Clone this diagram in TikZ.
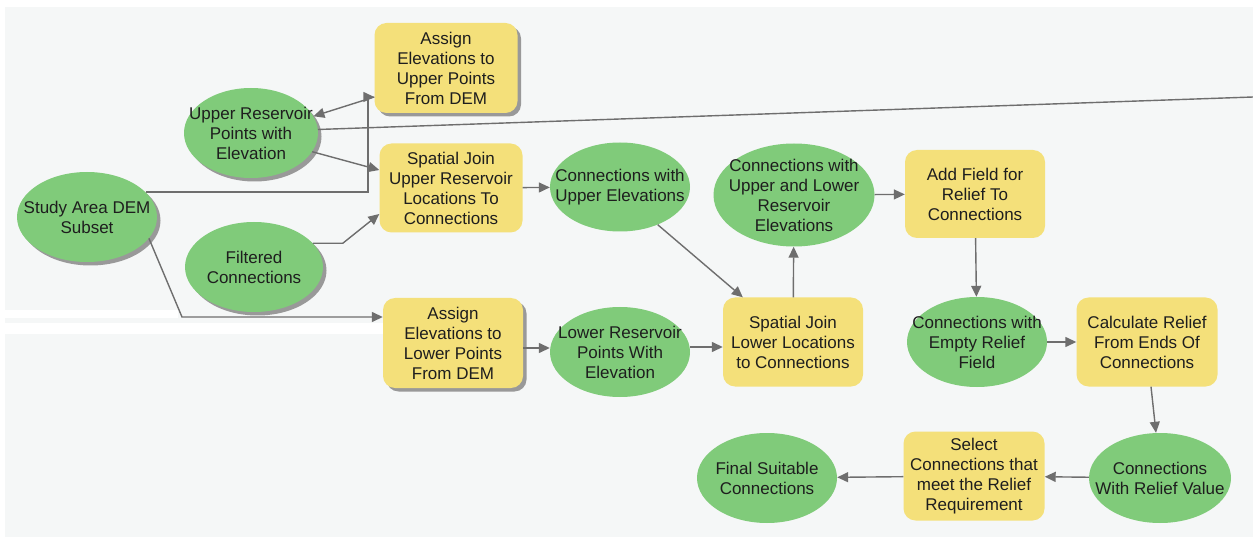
\documentclass[tikz,border=0pt]{standalone}
\usepackage{fontspec}
\setmainfont{Liberation Sans}
\usepackage{xcolor}
\usetikzlibrary{shapes.geometric,arrows.meta,shadows,calc,positioning}
\definecolor{dsgreen}{HTML}{80CB7A}
\definecolor{tlyellow}{HTML}{F4E07A}
\definecolor{linegray}{HTML}{6E6E6E}
\definecolor{bggray}{HTML}{F5F7F7}
\definecolor{txtcol}{HTML}{1E1E1E}

\begin{document}
\begin{tikzpicture}
[x=1pt,y=-1pt,
every node/.style={font=\fontsize{17}{20}\selectfont,text=txtcol,align=center,inner sep=0pt},
data/.style={ellipse,fill=dsgreen,minimum width=140pt,minimum height=90pt},
tool/.style={rectangle,rounded corners=12pt,fill=tlyellow,minimum width=141pt,minimum height=89pt},
shade/.style={drop shadow={shadow xshift=3.5pt,shadow yshift=-3.5pt,fill=black!40,opacity=1}},
flow/.style={-{Triangle[length=11pt,width=10pt]},draw=linegray,line width=1.4pt},
plain/.style={draw=linegray,line width=1.4pt}]
\useasboundingbox (0,0) rectangle (1253,537);
\fill[white] (0,0) rectangle (1253,537);
\fill[bggray] (5,7) rectangle (1253,537);
\fill[white] (5,310) rectangle (178,318);
\fill[white] (5,323) rectangle (384,334);

% inputs and first tools
\node[data,shade,label={center:Study Area DEM\\Subset}] (dem) at (87,217) {};
\node[data,shade,minimum width=134pt,label={center:Upper Reservoir\\Points with\\Elevation}] (upres) at (251,133) {};
\node[data,shade,minimum width=138pt,label={center:Filtered\\Connections}] (filt) at (254,267) {};
\node[tool,shade,minimum width=143pt,minimum height=90pt] (assignup) at (446,68) {Assign\\Elevations to\\Upper Points\\From DEM};
\node[tool,minimum width=143pt] (sjup) at (451,188) {Spatial Join\\Upper Reservoir\\Locations To\\Connections};
\node[tool,shade,minimum width=140pt,minimum height=90pt] (assignlow) at (453,343) {Assign\\Elevations to\\Lower Points\\From DEM};

% middle
\node[data,minimum height=89pt,label={center:Connections with\\Upper Elevations}] (upelev) at (620,187) {};
\node[data,label={center:Lower Reservoir\\Points With\\Elevation}] (lowres) at (620,352) {};
\node[tool,minimum width=140pt] (sjlow) at (793,342) {Spatial Join\\Lower Locations\\to Connections};
\node[data,minimum width=161pt,minimum height=103pt,label={center:Connections with\\Upper and Lower\\Reservoir\\Elevations}] (uplow) at (794,195) {};
\node[tool,minimum width=140pt,minimum height=88pt] (addf) at (975,194) {Add Field for\\Relief To\\Connections};

% relief
\node[data,label={center:Connections with\\Empty Relief\\Field}] (empty) at (977,342) {};
\node[tool] (calc) at (1147,342) {Calculate Relief\\From Ends Of\\Connections};
\node[data,minimum width=142pt,label={center:Connections\\With Relief Value}] (relval) at (1160,478) {};
\node[tool] (select) at (974,476) {Select\\Connections that\\meet the Relief\\Requirement};
\node[data,label={center:Final Suitable\\Connections}] (final) at (767,478) {};

\coordinate (jn) at (368,97);
\coordinate (bend) at (182,317);
\coordinate (rightend) at (1253,97);

\draw[flow] (dem.23) -| (jn) -- (assignup.west |- jn);
\draw[flow] (assignup.west |- jn) -- (upres.15);
\draw[plain] (upres.3) -- (rightend);
\draw[flow] (upres.-17) -- ([yshift=18pt]sjup.west);
\draw[flow] (filt.22) -- ++(30,0) -- ([yshift=-26pt]sjup.west);
\draw[flow] (dem.-19) -- (bend) -- (assignlow.west |- bend);
\draw[flow] (upelev.-45) -- ([xshift=20pt]sjlow.north west);
\draw[flow] ([yshift=-5pt]assignlow.east) -- ([yshift=4pt]lowres.west);
\draw[flow] ([yshift=5pt]lowres.east) -- ([yshift=-5pt]sjlow.west);
\draw[flow] ([xshift=4pt]calc.south) -- ([xshift=-4pt]relval.north);
\foreach \from/\to in {sjup/upelev,sjlow/uplow,uplow/addf,addf/empty,empty/calc,relval/select,select/final}
{
	\draw[flow] (\from) -- (\to);
}
\end{tikzpicture}
\end{document}
